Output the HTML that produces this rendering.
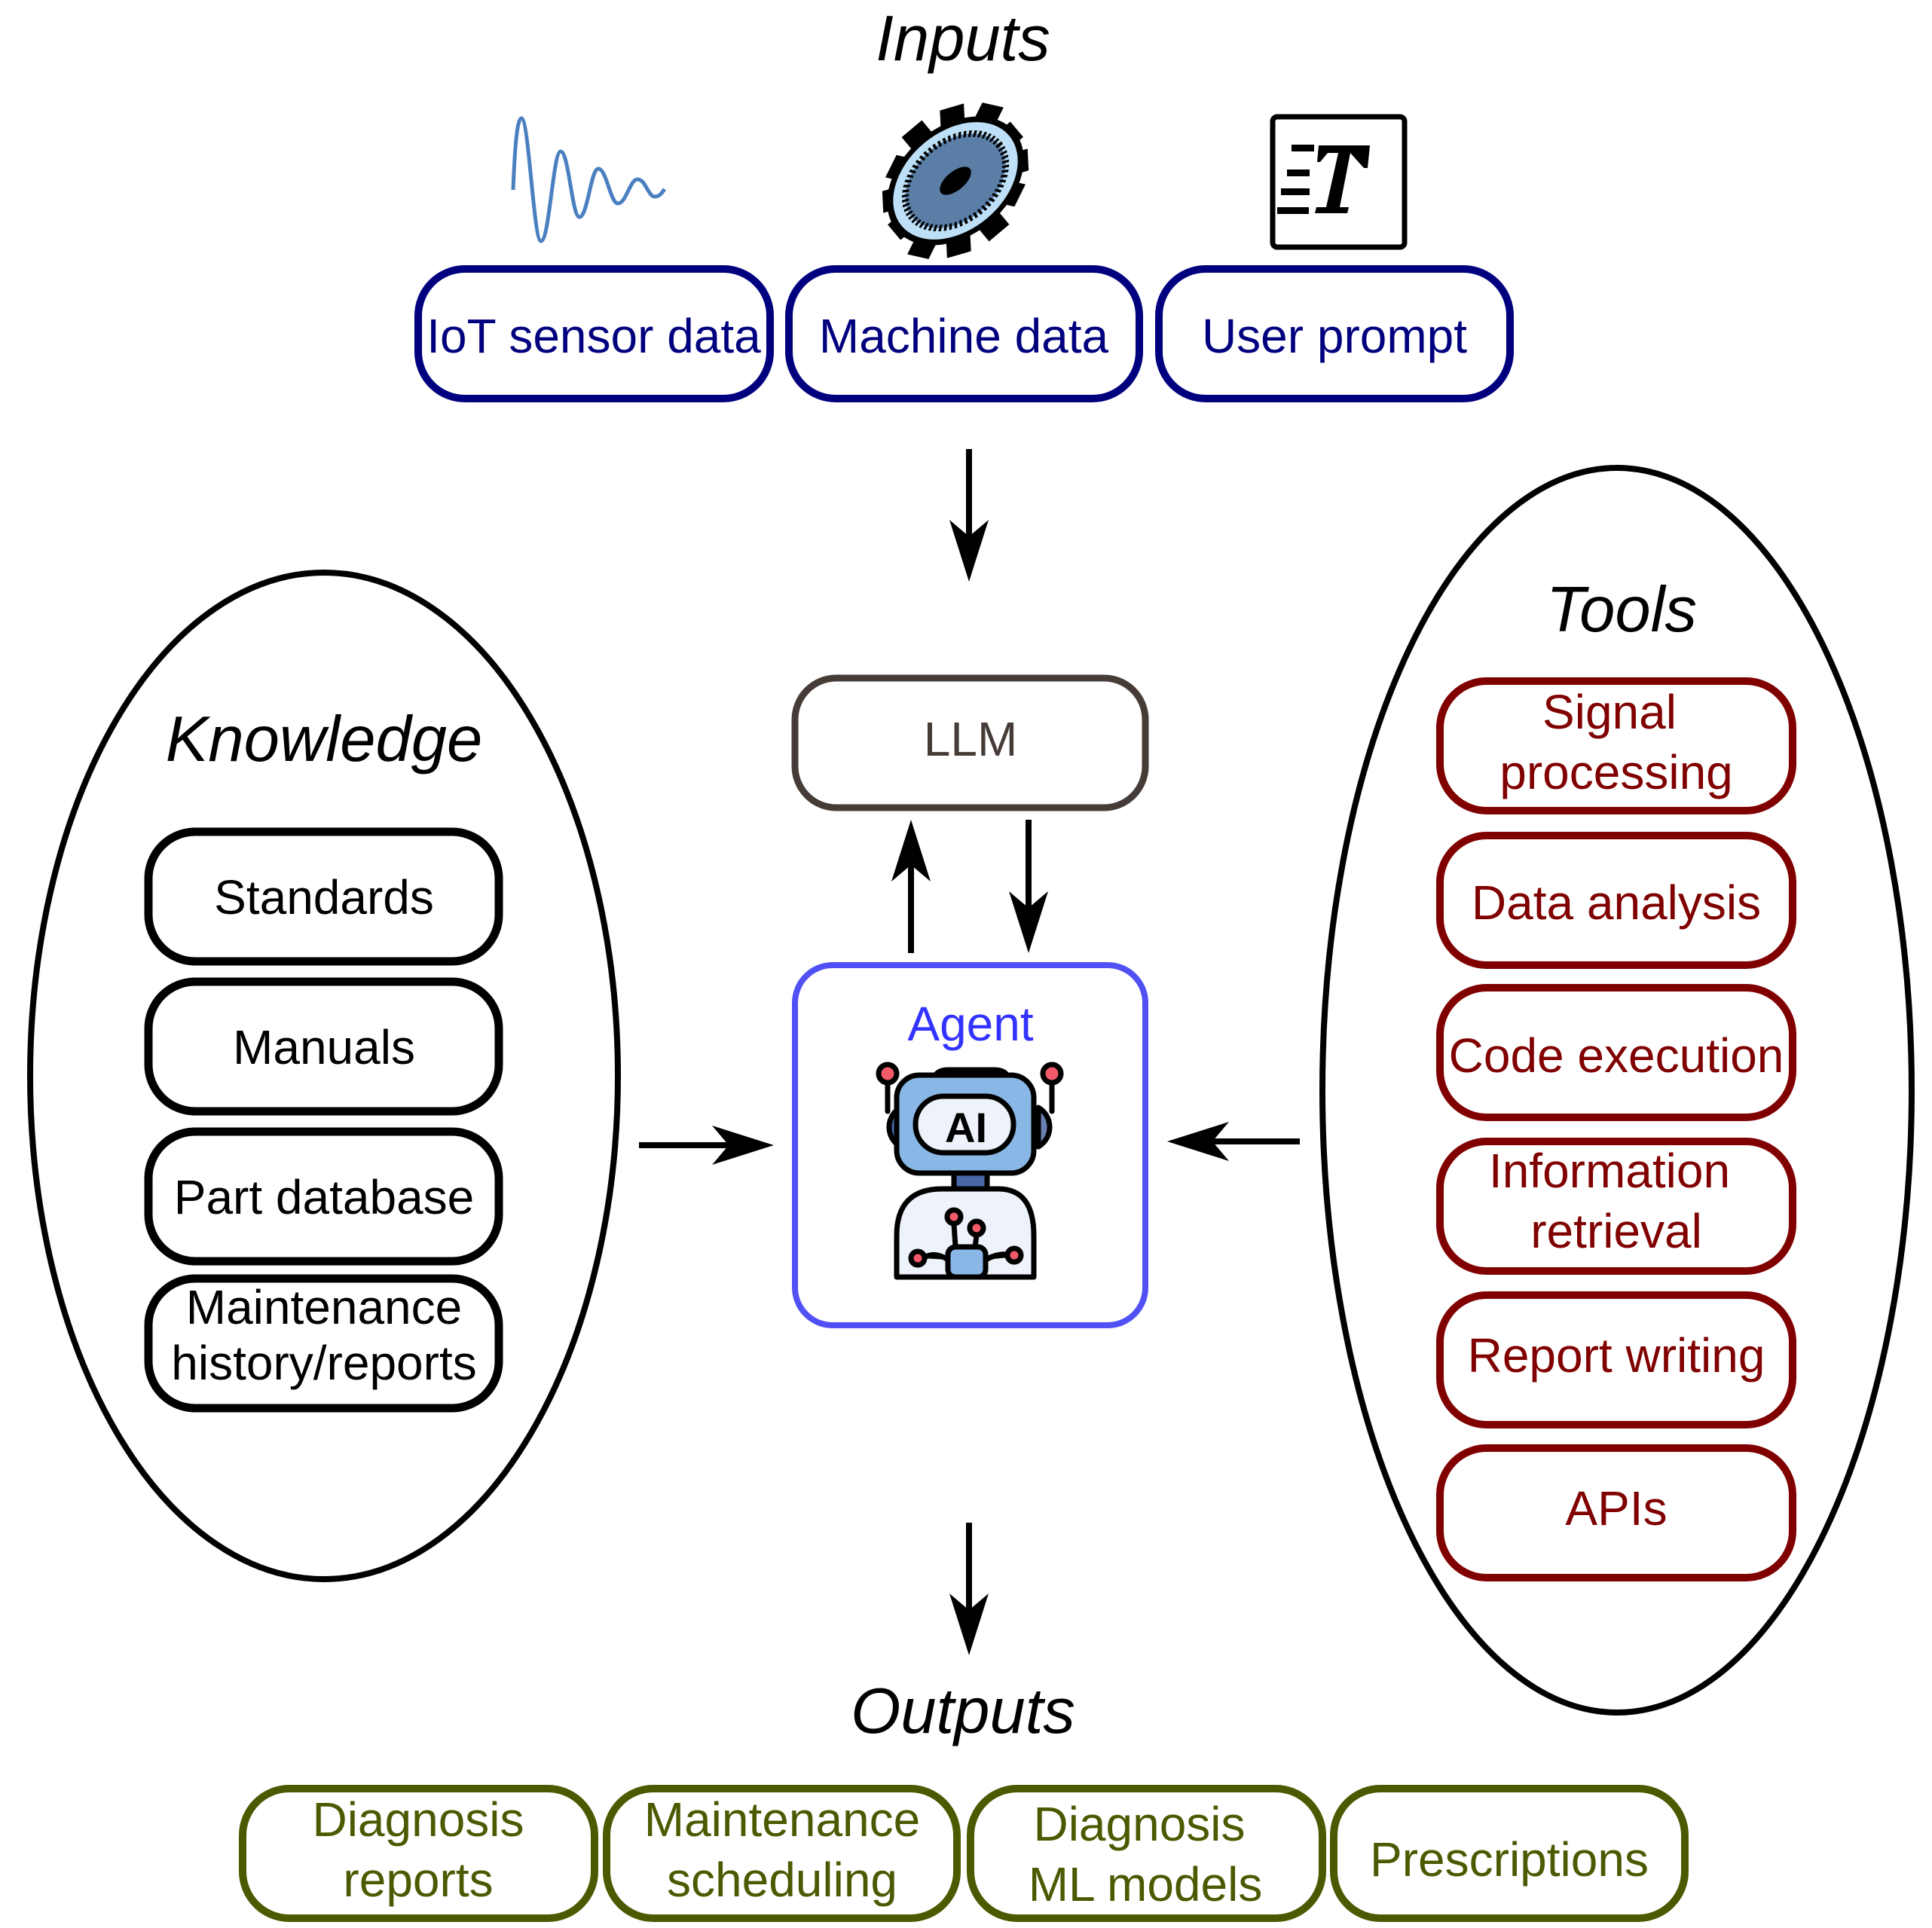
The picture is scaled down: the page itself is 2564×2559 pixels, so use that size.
<!DOCTYPE html>
<html><head><meta charset="utf-8"><style>
html,body{margin:0;padding:0;background:#fff}
svg{display:block}
text{font-family:"Liberation Sans",sans-serif}
</style></head><body>
<svg width="2564" height="2559" viewBox="0 0 2564 2559" xmlns="http://www.w3.org/2000/svg">
<!-- titles -->
<g font-style="italic" font-size="85" text-anchor="middle" fill="#000">
<text x="1278" y="80">Inputs</text>
<text x="430" y="1010">Knowledge</text>
<text x="2152" y="838">Tools</text>
<text x="1278" y="2300">Outputs</text>
</g>
<!-- wave -->
<path d="M681,252 C683,200 686,157 692,157 C702,157 708,320 718,320 C729,320 734,201 744,201 C755,201 759,288 769,288 C780,288 784,224 794,224 C805,224 810,270 820,270 C831,270 836,238 846,238 C857,238 860,261 869,261 C876,261 879,255 882,251" fill="none" stroke="#4a7fc0" stroke-width="5"/>
<!-- gear -->
<g transform="translate(1268,240) rotate(-40) scale(1.25,0.95)">
<g fill="#000">
<rect x="-14" y="-95" width="28" height="30"/><rect x="-14" y="65" width="28" height="30"/>
<rect x="-85" y="-14" width="30" height="28"/><rect x="55" y="-14" width="30" height="28"/>
<g transform="rotate(30)"><rect x="-14" y="-95" width="28" height="30"/><rect x="-14" y="65" width="28" height="30"/><rect x="-85" y="-14" width="30" height="28"/><rect x="55" y="-14" width="30" height="28"/></g>
<g transform="rotate(60)"><rect x="-14" y="-95" width="28" height="30"/><rect x="-14" y="65" width="28" height="30"/><rect x="-85" y="-14" width="30" height="28"/><rect x="55" y="-14" width="30" height="28"/></g>
</g>
<ellipse cx="0" cy="0" rx="78" ry="72" fill="#bde0f8" stroke="#000" stroke-width="7"/>
<ellipse cx="0" cy="0" rx="60" ry="55" fill="#5a7ea6" stroke="#000" stroke-width="8" stroke-dasharray="3 3"/>
<ellipse cx="0" cy="0" rx="20" ry="13" fill="#000"/>
</g>
<!-- T icon -->
<rect x="1689" y="155" width="175" height="173" rx="6" fill="#fff" stroke="#000" stroke-width="7"/>
<g fill="#000">
<polygon points="1750,193 1818,193 1815,223 1810,223 1792,203 1778,275 1790,275 1788,283 1745,283 1747,275 1760,275 1776,203 1762,203 1752,215 1748,215"/>
<rect x="1714" y="192" width="30" height="9"/>
<rect x="1708" y="225" width="30" height="9"/>
<rect x="1700" y="250" width="38" height="9"/>
<rect x="1695" y="275" width="42" height="9"/>
</g>
<!-- inputs boxes -->
<g fill="#fff" stroke="#00007f" stroke-width="10">
<rect x="555" y="357" width="467" height="172" rx="62"/>
<rect x="1047" y="357" width="465" height="172" rx="62"/>
<rect x="1538" y="357" width="466" height="172" rx="62"/>
</g>
<g font-size="64" fill="#00007f" text-anchor="middle">
<text x="788" y="468">IoT sensor data</text>
<text x="1279" y="468">Machine data</text>
<text x="1771" y="468">User prompt</text>
</g>
<!-- ellipses -->
<ellipse cx="430" cy="1428" rx="390" ry="668" fill="none" stroke="#000" stroke-width="8"/>
<ellipse cx="2146" cy="1447" rx="391" ry="826" fill="none" stroke="#000" stroke-width="8"/>
<!-- knowledge boxes -->
<g fill="#fff" stroke="#000" stroke-width="11">
<rect x="197" y="1104" width="465" height="172" rx="62"/>
<rect x="197" y="1303" width="465" height="172" rx="62"/>
<rect x="197" y="1502" width="465" height="172" rx="62"/>
<rect x="197" y="1697" width="465" height="172" rx="62"/>
</g>
<g font-size="64" fill="#000" text-anchor="middle">
<text x="430" y="1213">Standards</text>
<text x="430" y="1412">Manuals</text>
<text x="430" y="1611">Part database</text>
<text x="430" y="1757">Maintenance</text>
<text x="430" y="1831">history/reports</text>
</g>
<!-- tools boxes -->
<g fill="#fff" stroke="#800000" stroke-width="10">
<rect x="1911" y="904" width="468" height="172" rx="62"/>
<rect x="1911" y="1109" width="468" height="172" rx="62"/>
<rect x="1911" y="1311" width="468" height="172" rx="62"/>
<rect x="1911" y="1515" width="468" height="172" rx="62"/>
<rect x="1911" y="1719" width="468" height="172" rx="62"/>
<rect x="1911" y="1922" width="468" height="172" rx="62"/>
</g>
<g font-size="64" fill="#800000" text-anchor="middle">
<text x="2136" y="967">Signal</text>
<text x="2145" y="1047">processing</text>
<text x="2145" y="1220">Data analysis</text>
<text x="2145" y="1423">Code execution</text>
<text x="2136" y="1576">Information</text>
<text x="2145" y="1656">retrieval</text>
<text x="2145" y="1821">Report writing</text>
<text x="2145" y="2024">APIs</text>
</g>
<!-- LLM -->
<rect x="1055" y="900" width="465" height="172" rx="55" fill="#fff" stroke="#463c37" stroke-width="9"/>
<text x="1288" y="1003" font-size="64" fill="#463c37" text-anchor="middle">LLM</text>
<!-- Agent -->
<rect x="1055" y="1281" width="465" height="478" rx="50" fill="#fff" stroke="#5050f5" stroke-width="8"/>
<text x="1288" y="1381" font-size="64" fill="#3333ff" text-anchor="middle">Agent</text>
<!-- robot -->
<g stroke="#000" stroke-width="7" stroke-linecap="round" stroke-linejoin="round">
<line x1="1178" y1="1430" x2="1178" y2="1475"/><line x1="1396" y1="1430" x2="1396" y2="1475"/>
<circle cx="1178" cy="1425" r="12" fill="#f25a6a"/><circle cx="1396" cy="1425" r="12" fill="#f25a6a"/>
<path d="M1195,1470 A30,30 0 0 0 1195,1522 Z" fill="#4a68a8"/>
<path d="M1378,1470 A30,30 0 0 1 1378,1522 Z" fill="#6a80b0"/>
<path d="M1238,1440 Q1238,1420 1258,1420 L1320,1420 Q1340,1420 1340,1440 Z" fill="#eef2fa"/>
<path d="M1266,1557 L1310,1557 L1310,1578 L1266,1578 Z" fill="#4a68a8"/>
<rect x="1190" y="1427" width="182" height="130" rx="30" fill="#8ab8e6"/>
<rect x="1215" y="1455" width="130" height="75" rx="37" fill="#eef2fa"/>
<path d="M1190,1695 L1190,1640 Q1190,1578 1250,1578 L1325,1578 Q1372,1578 1372,1640 L1372,1695 Z" fill="#eef2fa"/>
<rect x="1258" y="1655" width="50" height="40" rx="10" fill="#8ab8e6"/>
<line x1="1268" y1="1655" x2="1266" y2="1625"/><line x1="1294" y1="1655" x2="1296" y2="1640"/>
<circle cx="1266" cy="1615" r="9" fill="#f25a6a"/><circle cx="1296" cy="1630" r="9" fill="#f25a6a"/>
<path d="M1225,1670 Q1240,1660 1258,1672"/><path d="M1348,1668 Q1330,1660 1308,1672"/>
<circle cx="1218" cy="1670" r="9" fill="#f25a6a"/><circle cx="1346" cy="1666" r="9" fill="#f25a6a"/>
</g>
<text x="1282" y="1516" font-size="56" font-weight="bold" text-anchor="middle" fill="#000">AI</text>
<!-- arrows -->
<g stroke="#000" stroke-width="8" fill="none">
<line x1="1286" y1="596" x2="1286" y2="730"/>
<line x1="1209" y1="1265" x2="1209" y2="1130"/>
<line x1="1365" y1="1088" x2="1365" y2="1225"/>
<line x1="848" y1="1520" x2="985" y2="1520"/>
<line x1="1725" y1="1515" x2="1590" y2="1515"/>
<line x1="1286" y1="2021" x2="1286" y2="2155"/>
</g>
<g fill="#000">
<path d="M1286,772 L1260,690 L1286,712 L1312,690 Z"/>
<path d="M1209,1088 L1183,1170 L1209,1148 L1235,1170 Z"/>
<path d="M1365,1265 L1339,1183 L1365,1205 L1391,1183 Z"/>
<path d="M1027,1520 L945,1494 L967,1520 L945,1546 Z"/>
<path d="M1549,1515 L1631,1489 L1609,1515 L1631,1541 Z"/>
<path d="M1286,2197 L1260,2115 L1286,2137 L1312,2115 Z"/>
</g>
<!-- outputs -->
<g fill="#fff" stroke="#4b5a00" stroke-width="10">
<rect x="322" y="2374" width="467" height="172" rx="62"/>
<rect x="805" y="2374" width="465" height="172" rx="62"/>
<rect x="1288" y="2374" width="467" height="172" rx="62"/>
<rect x="1770" y="2374" width="466" height="172" rx="62"/>
</g>
<g font-size="64" fill="#4b5a00" text-anchor="middle">
<text x="555" y="2437">Diagnosis</text>
<text x="555" y="2517">reports</text>
<text x="1038" y="2437">Maintenance</text>
<text x="1038" y="2517">scheduling</text>
<text x="1512" y="2443">Diagnosis</text>
<text x="1520" y="2523">ML models</text>
<text x="2003" y="2490">Prescriptions</text>
</g>
</svg>
</body></html>
